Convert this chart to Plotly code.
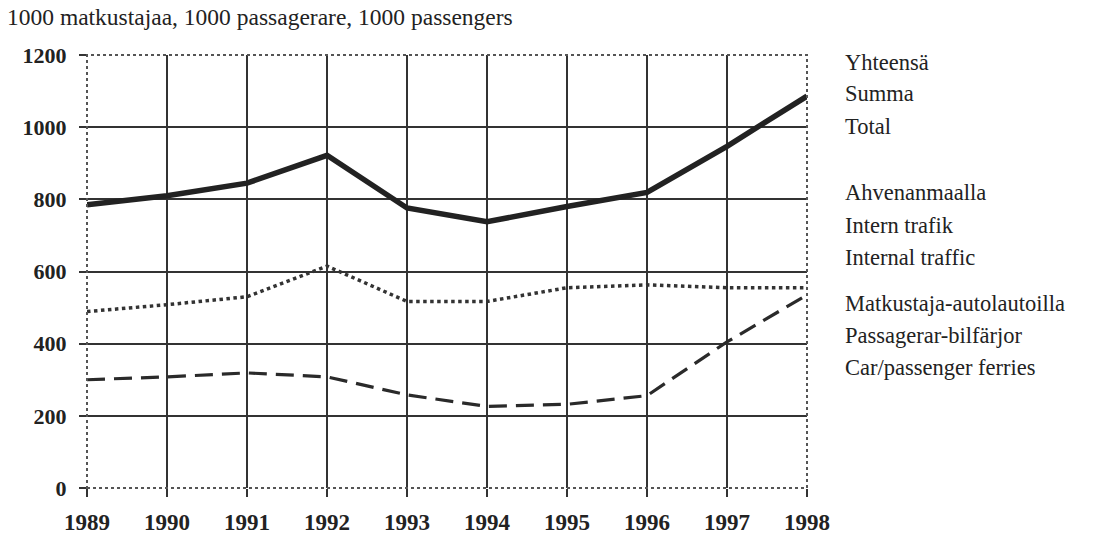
import plotly.graph_objects as go

years = [1989, 1990, 1991, 1992, 1993, 1994, 1995, 1996, 1997, 1998]
total = [785, 810, 845, 922, 776, 738, 780, 819, 947, 1086]
internal = [489, 508, 530, 615, 517, 517, 555, 563, 555, 555]
ferries = [300, 308, 319, 308, 258, 226, 232, 256, 405, 535]

y_ticks = [0, 200, 400, 600, 800, 1000, 1200]
title_text = "1000 matkustajaa, 1000 passagerare, 1000 passengers"
legend_groups = [
    (["Yhteensä", "Summa", "Total"], 62),
    (["Ahvenanmaalla", "Intern trafik", "Internal traffic"], 193),
    (["Matkustaja-autolautoilla", "Passagerar-bilfärjor", "Car/passenger ferries"], 303),
]

W, H = 1098, 536
X0, X1, Y0, Y1 = 87, 807, 55, 488  # plot area in page pixels
L, T = X0, Y0
R = W - X1
B = H - Y1
plot_w = X1 - X0
plot_h = Y1 - Y0

fig = go.Figure()
fig.add_trace(go.Scatter(x=years, y=total, mode="lines",
                         line=dict(color="#222222", width=5.5), name="Total"))
fig.add_trace(go.Scatter(x=years, y=internal, mode="lines",
                         line=dict(color="#333333", width=3.5, dash="dot"), name="Internal"))
fig.add_trace(go.Scatter(x=years, y=ferries, mode="lines",
                         line=dict(color="#2a2a2a", width=3.2, dash="18px,9px"), name="Ferries"))

font_family = "Liberation Serif, Times New Roman, serif"

fig.update_layout(
    width=W, height=H,
    margin=dict(l=L, r=R, t=T, b=B, pad=0),
    paper_bgcolor="white", plot_bgcolor="white",
    showlegend=False,
    font=dict(family=font_family, color="#222222"),
)
fig.update_xaxes(
    range=[1989, 1998], tickvals=years, ticktext=[f"<b>{y}</b>" for y in years],
    showgrid=True, gridcolor="#333333", gridwidth=1.6,
    ticks="outside", ticklen=8, tickcolor="#333333", tickwidth=1.5,
    tickfont=dict(size=23, family=font_family, color="#222222"),
    ticklabelstandoff=5, automargin=False,
    zeroline=False, showline=False,
)
fig.update_yaxes(
    range=[0, 1200], tickvals=y_ticks, ticktext=[f"<b>{v}</b>" for v in y_ticks],
    showgrid=True, gridcolor="#333333", gridwidth=1.6,
    ticks="outside", ticklen=7, tickcolor="#333333", tickwidth=1.5,
    tickfont=dict(size=22, family=font_family, color="#222222"),
    ticklabelstandoff=8, automargin=False,
    zeroline=False, showline=False,
)
fig.add_shape(type="rect", xref="paper", yref="paper", x0=0, y0=0, x1=1, y1=1,
              line=dict(color="#555555", width=2, dash="dot"), layer="above")

fig.add_annotation(text=title_text, xref="paper", yref="paper",
                   x=(5 - X0) / plot_w, y=1 - (17 - Y0) / plot_h,
                   xanchor="left", yanchor="middle", showarrow=False,
                   font=dict(size=23.5, family=font_family, color="#222222"))

for lines, ytop in legend_groups:
    for i, txt in enumerate(lines):
        ypix = ytop + i * 32
        fig.add_annotation(text=txt, xref="paper", yref="paper",
                           x=(843 - X0) / plot_w, y=1 - (ypix - Y0) / plot_h,
                           xanchor="left", yanchor="middle", showarrow=False,
                           font=dict(size=22.5, family=font_family, color="#222222"))

fig.write_html("out.html", config={"displayModeBar": False},
               post_script="document.body.style.margin='0';document.body.style.overflow='hidden';")
